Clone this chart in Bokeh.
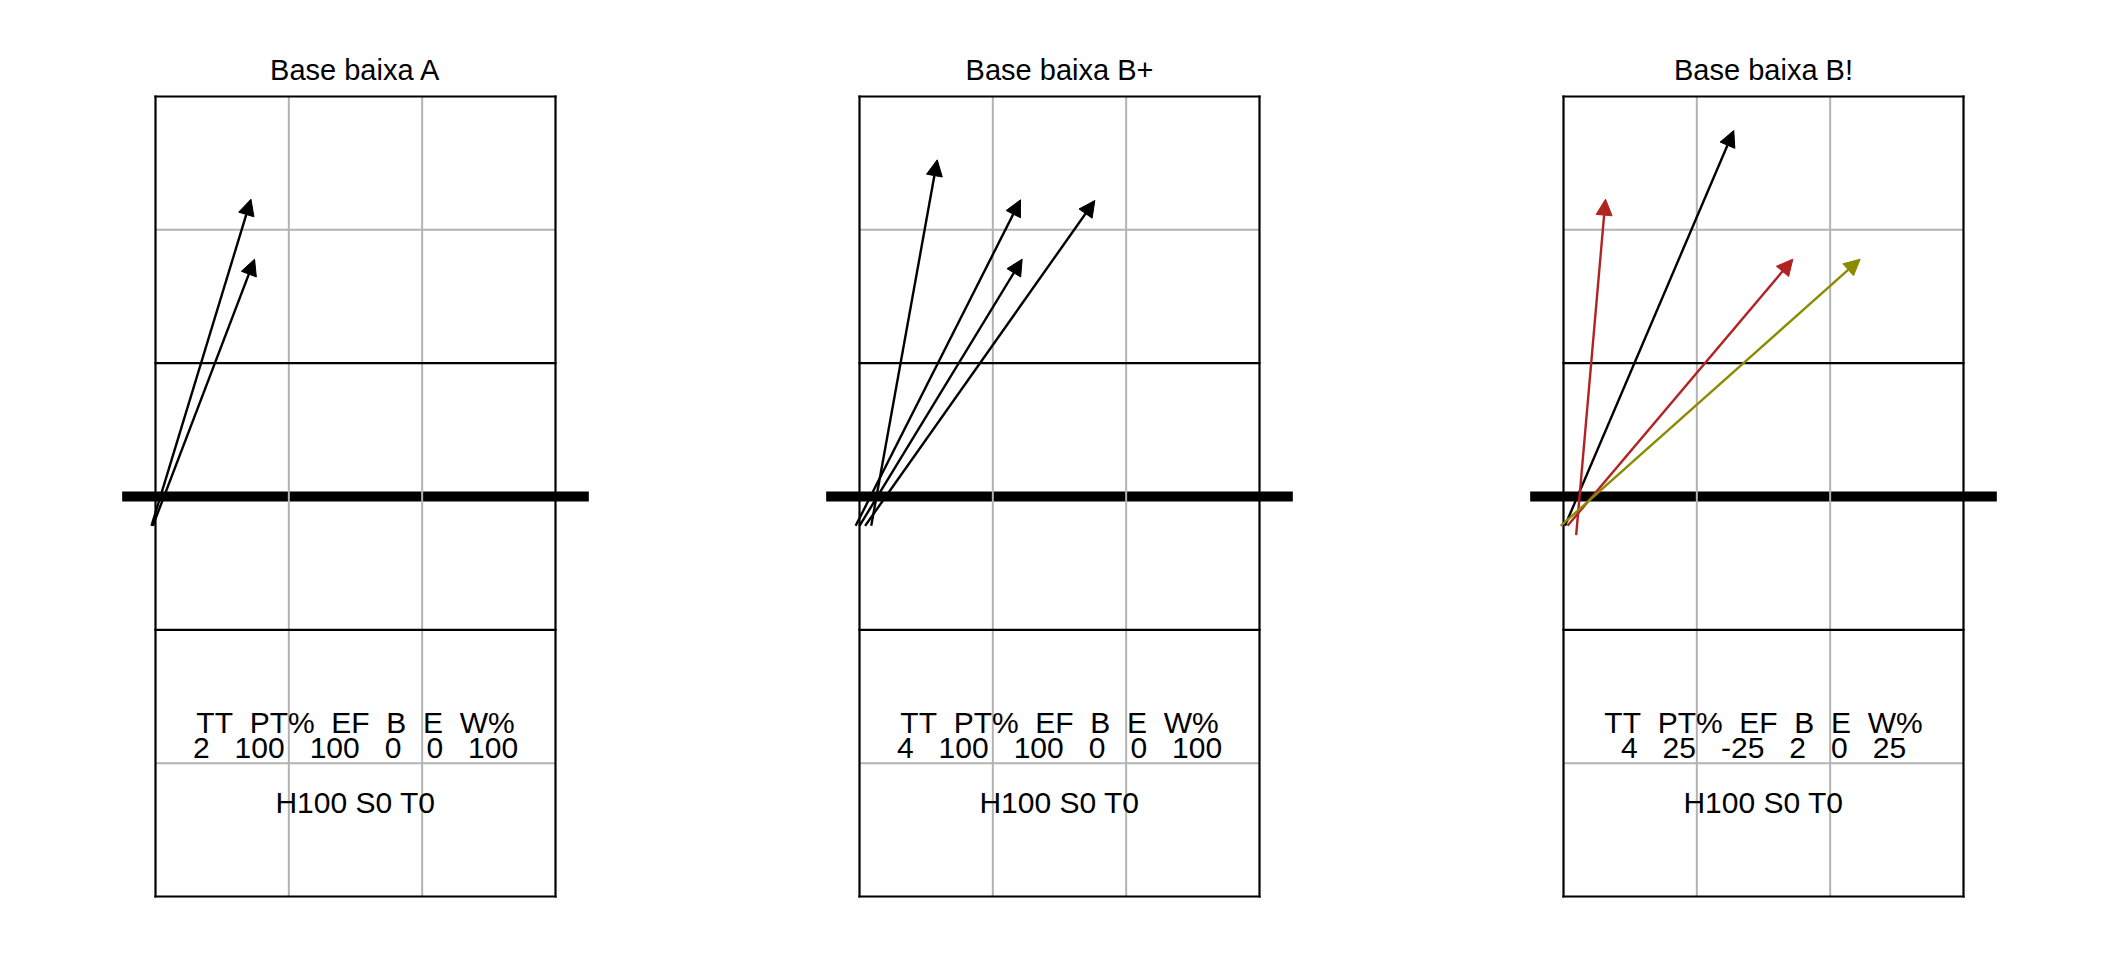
from bokeh.plotting import figure
from bokeh.models import Range1d, ColumnDataSource, Arrow, NormalHead
from bokeh.embed import file_html
from bokeh.resources import INLINE
from bokeh.core.properties import value

# ---------------- data ----------------
titles = ["Base baixa A", "Base baixa B+", "Base baixa B!"]
stat_header = ["TT  PT%  EF  B  E  W%", "TT  PT%  EF  B  E  W%", "TT  PT%  EF  B  E  W%"]
stat_values = ["2   100   100   0   0   100",
               "4   100   100   0   0   100",
               "4   25   -25   2   0   25"]
footers = ["H100 S0 T0", "H100 S0 T0", "H100 S0 T0"]

# arrows (court units: x 0..3 across, y = 0 at the net, +3 at far baseline)
arrow_panel = [0, 0, 1, 1, 1, 1, 2, 2, 2, 2]
arrow_x0 = [-0.03, -0.02, 0.088, -0.029, 0.0, 0.042, 0.011, 0.095, 0.03, -0.021]
arrow_y0 = [-0.22, -0.22, -0.22, -0.22, -0.22, -0.22, -0.22, -0.29, -0.22, -0.22]
arrow_x1 = [0.716, 0.743, 0.583, 1.2075, 1.22, 1.765, 1.277, 0.315, 1.72, 2.225]
arrow_y1 = [2.23, 1.78, 2.525, 2.225, 1.78, 2.22, 2.745, 2.23, 1.78, 1.78]
arrow_color = ["black", "black", "black", "black", "black", "black",
               "black", "#B22222", "#B22222", "#8B8B00"]

# ---------------- layout ----------------
U = 400 / 3.0            # pixels per court unit
W, H = 2096, 944
ORG = 0                  # page offset of the plot frame
x_left = -(155 - ORG) / U
y_top = (496 - ORG) / U
panel_step = 704 / U

p = figure(width=W, height=H, output_backend="svg", toolbar_location=None,
           x_range=Range1d(x_left, x_left + W / U),
           y_range=Range1d(y_top - H / U, y_top),
           min_border=0, x_axis_location=None, y_axis_location=None,
           outline_line_color=None, background_fill_color="white")
p.xgrid.visible = False
p.ygrid.visible = False

FONT = value("Liberation Sans")
NB = "\u00a0"

def keep_spaces(s):
    return s.replace(" ", NB)

for k in range(3):
    ox = k * panel_step
    # net
    p.segment(x0=[ox - 0.25], y0=[0], x1=[ox + 3.25], y1=[0],
              line_color="black", line_width=10, line_cap="butt")
    # gray grid lines
    p.segment(x0=[ox + 1, ox + 2, ox, ox], y0=[-3, -3, 2, -2],
              x1=[ox + 1, ox + 2, ox + 3, ox + 3], y1=[3, 3, 2, -2],
              line_color="#B3B3B3", line_width=2)
    # black lines: border and attack lines
    p.segment(x0=[ox, ox + 3, ox, ox, ox, ox],
              y0=[-3, -3, 3, -3, 1, -1],
              x1=[ox, ox + 3, ox + 3, ox + 3, ox + 3, ox + 3],
              y1=[3, 3, 3, -3, 1, -1],
              line_color="black", line_width=2.2, line_cap="square")
    # texts
    p.text(x=[ox + 1.5], y=[3.199], text=[titles[k]], text_font=FONT,
           text_font_size="29px", text_align="center", text_baseline="alphabetic",
           text_color="black")
    p.text(x=[ox + 1.5, ox + 1.5], y=[-1.6925, -1.8825],
           text=[keep_spaces(stat_header[k]), keep_spaces(stat_values[k])], text_font=FONT,
           text_font_size="30px", text_align="center", text_baseline="alphabetic",
           text_color="black")
    p.text(x=[ox + 1.5], y=[-2.2925], text=[footers[k]], text_font=FONT,
           text_font_size="30px", text_align="center", text_baseline="alphabetic",
           text_color="black")

# arrows
for i in range(len(arrow_panel)):
    ox = arrow_panel[i] * panel_step
    c = arrow_color[i]
    src = ColumnDataSource(dict(x0=[ox + arrow_x0[i]], y0=[arrow_y0[i]],
                                x1=[ox + arrow_x1[i]], y1=[arrow_y1[i]]))
    p.add_layout(Arrow(end=NormalHead(size=16, fill_color=c, line_color=c, line_width=1),
                       x_start="x0", y_start="y0", x_end="x1", y_end="y1",
                       source=src, line_color=c, line_width=2.4))

open("out.html", "w").write(file_html(p, INLINE))
